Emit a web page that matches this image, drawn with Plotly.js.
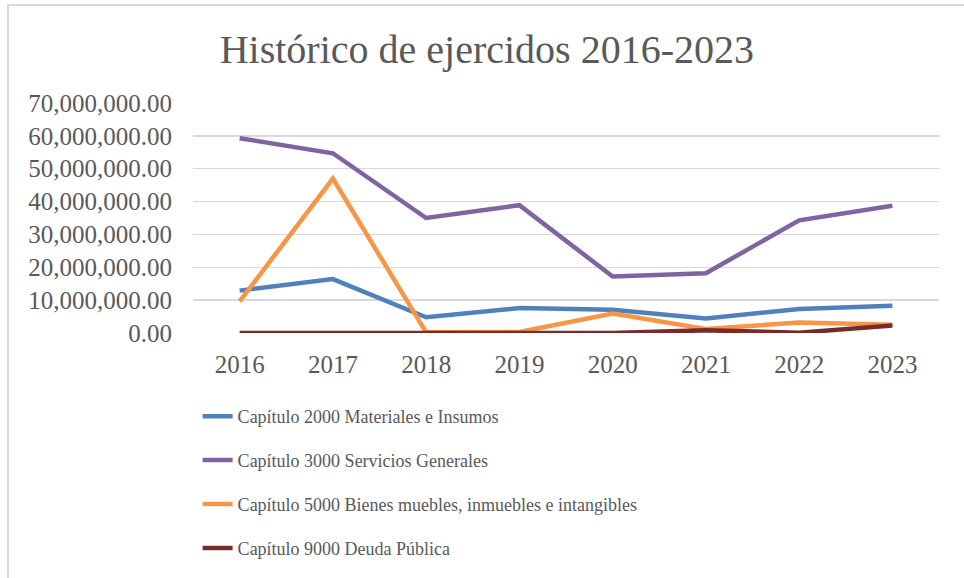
<!DOCTYPE html>
<html>
<head>
<meta charset="utf-8">
<script src="https://cdn.plot.ly/plotly-3.0.1.min.js"></script>
<style>
html,body{margin:0;padding:0;background:#fff;}
#wrap{position:relative;width:964px;height:578px;overflow:hidden;}
#chart{position:absolute;left:0;top:0;width:964px;height:578px;}
#frame{position:absolute;left:7px;top:4px;width:980px;height:600px;border-left:2px solid #d9d9d9;border-top:2px solid #d9d9d9;pointer-events:none;}
</style>
</head>
<body>
<div id="wrap"><div id="chart"></div><div id="frame"></div></div>
<script>
const years = ['2016','2017','2018','2019','2020','2021','2022','2023'];
const cap2000 = [12900000,16400000,4800000,7600000,7100000,4400000,7300000,8300000];
const cap3000 = [59300000,54700000,35000000,38900000,17200000,18200000,34300000,38700000];
const cap5000 = [9600000,47000000,200000,300000,5900000,1200000,3200000,2500000];
const cap9000 = [0,0,0,0,0,800000,100000,2300000];
const names = [
  'Capítulo 2000 Materiales e Insumos',
  'Capítulo 3000 Servicios Generales',
  'Capítulo 5000 Bienes muebles, inmuebles e intangibles',
  'Capítulo 9000 Deuda Pública'
];
const colors = ['#4f81bd','#8064a2','#f79646','#772c2a'];
const series = [cap2000, cap3000, cap5000, cap9000];

const font = 'Liberation Serif, DejaVu Serif, serif';
const traces = series.map((s,i)=>({
  x: years, y: s, name: names[i], type:'scatter', mode:'lines',
  legendgroup: 'g'+i,
  line:{color:colors[i], width:4.5}
}));

const layout = {
  width:964, height:578,
  margin:{l:193, r:25, t:103, b:245, autoexpand:false},
  paper_bgcolor:'#fff', plot_bgcolor:'#fff',
  font:{family:font, color:'#595959'},
  title:{text:'Histórico de ejercidos 2016-2023', font:{family:font, size:40, color:'#595959'},
         x:0.505, xref:'container', xanchor:'center', y:0.915, yref:'container', yanchor:'middle'},
  xaxis:{type:'category', range:[-0.5,7.5], showgrid:false, zeroline:false, showline:false, ticks:'',
         tickfont:{size:25, color:'#595959'}, ticklabelstandoff:14, fixedrange:true},
  yaxis:{range:[0,70000000], dtick:10000000, tickformat:',.2f', showgrid:true,
         gridcolor:'#d9d9d9', gridwidth:1.5, zeroline:false, showline:false, ticks:'',
         tickfont:{size:25, color:'#595959'}, ticklabelstandoff:20},
  showlegend:true,
  legend:{orientation:'v', x:0.205, xref:'container', xanchor:'left', y:0.3114, yref:'container', yanchor:'top',
          font:{size:18, color:'#595959', family:font}, traceorder:'grouped', tracegroupgap:17.5,
          bgcolor:'rgba(0,0,0,0)'}
};
Plotly.newPlot('chart', traces, layout, {displayModeBar:false, staticPlot:true});
</script>
</body>
</html>
